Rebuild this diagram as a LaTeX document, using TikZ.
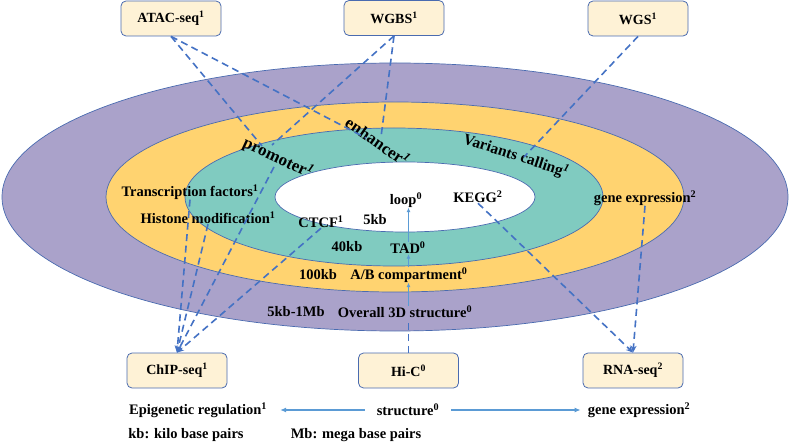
\documentclass[tikz,border=0pt]{standalone}
\usepackage{fontspec}
\setmainfont{Liberation Serif}
\usetikzlibrary{arrows.meta}
\definecolor{purp}{HTML}{AAA2CA}
\definecolor{yel}{HTML}{FFD370}
\definecolor{tealc}{HTML}{80CBC0}
\definecolor{edgec}{HTML}{4A6BB0}
\definecolor{boxfill}{HTML}{FEF2D6}
\definecolor{dashc}{HTML}{4472C4}
\definecolor{lightb}{HTML}{5B9BD5}
\begin{document}
\begin{tikzpicture}[x=1pt,y=-1pt,
  lbl/.style={font=\fontsize{14.5}{16}\selectfont\bfseries, inner sep=0pt},
  biglbl/.style={font=\fontsize{17}{19}\selectfont\bfseries, inner sep=0pt},
  techbox/.style={draw=edgec, fill=boxfill, rounded corners=5pt, minimum width=100pt, minimum height=35pt, font=\fontsize{14}{16}\selectfont\bfseries, line width=0.8pt},
  dline/.style={draw=dashc, dash pattern=on 7pt off 4.5pt, line width=1.6pt},
  ring/.style={draw=edgec, line width=0.7pt},
  harrow/.style={draw=lightb, line width=0.8pt, -{Latex[length=4.5pt,width=4pt]}},
  larrow/.style={draw=lightb, line width=1.2pt, -{Latex[length=6pt,width=5pt]}},
  tip/.style={-{Stealth[length=7pt,width=6pt]}}]
\useasboundingbox (0,0) rectangle (789,443);
% rings
\path[ring, fill=purp] (395,197) ellipse [x radius=393pt, y radius=134pt];
\path[ring, fill=yel] (395,197) ellipse [x radius=289pt, y radius=95pt];
\path[ring, fill=tealc] (394,197) ellipse [x radius=209pt, y radius=69pt];
\path[ring, fill=white] (405,197) ellipse [x radius=130pt, y radius=35pt];
% boxes
\node[techbox] (atac) at (171,18.5) {ATAC-seq\textsuperscript{1}};
\node[techbox] (wgbs) at (394,18) {WGBS\textsuperscript{1}};
\node[techbox] (wgs) at (638,18.5) {WGS\textsuperscript{1}};
\node[techbox] (chip) at (177,370.5) {ChIP-seq\textsuperscript{1}};
\node[techbox] (hic) at (408.5,370.5) {Hi-C\textsuperscript{0}};
\node[techbox] (rna) at (633,370.5) {RNA-seq\textsuperscript{2}};
% ring labels
\node[biglbl, rotate=-25] (prom) at (278,158) {promoter\textit{\textsuperscript{1}}};
\node[biglbl, rotate=-35] (enh) at (378,141) {enhancer\textit{\textsuperscript{1}}};
\node[lbl, font=\fontsize{15.5}{17}\selectfont\bfseries, rotate=-18] (var) at (516,156) {Variants calling\textit{\textsuperscript{1}}};
\node[lbl] (tf) at (190,192) {Transcription factors\textsuperscript{1}};
\node[lbl] (hist) at (208,218) {Histone modification\textsuperscript{1}};
\node[lbl] (ctcf) at (321,222) {CTCF\textsuperscript{1}};
\node[lbl] (kb5) at (375,220) {5kb};
\node[lbl] (kb40) at (347,247) {40kb};
\node[lbl] (kb100) at (318,275) {100kb};
\node[lbl] (ab) at (409,275) {A/B compartment\textsuperscript{0}};
\node[lbl] (tad) at (408,248) {TAD\textsuperscript{0}};
\node[lbl] (loop) at (406,200) {loop\textsuperscript{0}};
\node[lbl] (kegg) at (478,197) {KEGG\textsuperscript{2}};
\node[lbl] (gexp) at (645,198) {gene expression\textsuperscript{2}};
\node[lbl] (mb) at (296,312) {5kb-1Mb};
\node[lbl] (overall) at (405,312) {Overall 3D structure\textsuperscript{0}};
% legend
\node[lbl] (epi) at (198,410) {Epigenetic regulation\textsuperscript{1}};
\node[lbl] (struct) at (408,410) {structure\textsuperscript{0}};
\node[lbl] (gexp2) at (639,410) {gene expression\textsuperscript{2}};
\node[lbl] (kbdef) at (186,435) {kb: kilo base pairs};
\node[lbl] (mbdef) at (356,435) {Mb: mega base pairs};
% connector end points on rotated labels
\coordinate (pA) at (262,146);
\coordinate (pW) at (272,145);
\coordinate (pC) at (274,167);
\coordinate (eA) at (366,138);
\coordinate (eW) at (381,137);
\coordinate (vW) at (524,157);
% dashed connectors
\draw[dline] (atac.south) -- (pA);
\draw[dline] (atac.south) -- (eA);
\draw[dline] (wgbs.south) -- (pW);
\draw[dline] (wgbs.south) -- (eW);
\draw[dline] (wgs.south) -- (vW);
\draw[dline, tip] (tf.south) -- (chip.north);
\draw[dline, tip] (hist.south) -- (chip.north);
\draw[dline, tip] (pC) -- (chip.north);
\draw[dline, tip] (ctcf.south) -- (chip.north);
\draw[dline, tip] (kegg.south) -- (rna.north);
\draw[dline, tip] (gexp.south) -- (rna.north);
\draw[dline] (hic.north) -- (overall.south -| hic.north);
% Hi-C hierarchy
\draw[harrow] (overall.north -| hic.north) -- (ab.south -| hic.north);
\draw[harrow] (ab.north -| hic.north) -- (tad.south -| hic.north);
\draw[harrow] (tad.north -| hic.north) -- (loop.south -| hic.north);
% legend arrows
\draw[larrow] ([xshift=-12pt]struct.west) -- ([xshift=13pt]epi.east);
\draw[larrow] ([xshift=12pt]struct.east) -- ([xshift=-7pt]gexp2.west);
\end{tikzpicture}
\end{document}
